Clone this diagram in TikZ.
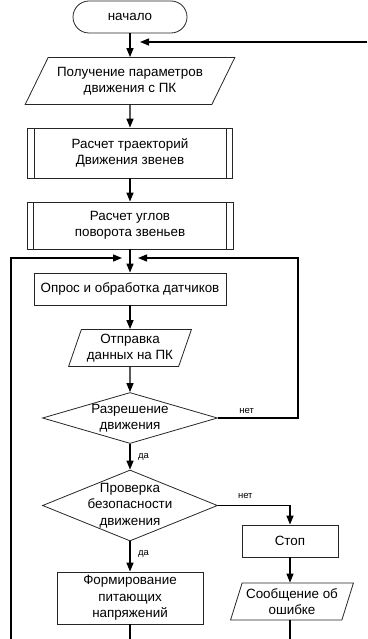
\documentclass[tikz,border=0pt]{standalone}
\usepackage{fontspec}
\setmainfont{Liberation Sans}
\usetikzlibrary{shapes.geometric,arrows.meta}

\begin{document}
\begin{tikzpicture}[
        x=1pt, y=-1pt,
        font=\fontsize{13.4}{16.5}\selectfont,
        box/.style={draw=black!85, line width=0.8pt, align=center, inner sep=2pt},
        term/.style={box, rounded corners=16pt, minimum width=114pt, minimum height=32pt},
        proc/.style={box, rectangle},
        io/.style 2 args={box, trapezium, trapezium stretches=true,
            trapezium left angle=#1, trapezium right angle=#2},
        decision/.style={box, diamond, inner sep=0pt},
        conn/.style={line width=1.4pt, -{Triangle[length=9pt,width=7pt]}},
        line/.style={line width=1.4pt},
        lbl/.style={font=\fontsize{9.5}{11}\selectfont}
    ]
    \useasboundingbox (0,0) rectangle (367,639);

    % Main column
    \node[term] (start) at (130,17) {начало};
    \node[io={57}{123}, minimum width=210pt, minimum height=47pt] (getpar) at (130,81) {Получение параметров\\движения с ПК};
    \node[proc, minimum width=205pt, minimum height=50pt] (traj) at (130,153) {Расчет траекторий\\Движения звенев};
    \node[proc, minimum width=206pt, minimum height=47pt] (angles) at (130,225.5) {Расчет углов\\поворота звеньев};
    \node[proc, minimum width=192pt, minimum height=32pt] (sensors) at (130,289) {Опрос и обработка датчиков};
    \node[io={70}{110}, minimum width=123pt, minimum height=37pt] (send) at (130,348) {Отправка\\данных на ПК};

    % Decisions
    \node[decision, minimum width=175pt, minimum height=51pt] (allow) at (130,418) {};
    \node[align=center] (allowtxt) at (allow) {Разрешение\\движения};
    \node[decision, minimum width=175pt, minimum height=71pt] (safe) at (130,505.5) {};
    \node[align=center] (safetxt) at (safe) {Проверка\\безопасности\\движения};

    % Outputs
    \node[proc, minimum width=146pt, minimum height=52pt] (power) at (130,598) {Формирование\\питающих\\напряжений};
    \node[proc, minimum width=96pt, minimum height=32pt] (stop) at (290,541) {Стоп};
    \node[io={70}{110}, minimum width=123pt, minimum height=37pt] (errmsg) at (292,601.5) {Сообщение об\\ошибке};

    % Subprocess side bars
    \foreach \n in {traj,angles} {
        \draw[line width=0.8pt, black!85] ([xshift=7pt]\n.north west) -- ([xshift=7pt]\n.south west);
        \draw[line width=0.8pt, black!85] ([xshift=-7pt]\n.north east) -- ([xshift=-7pt]\n.south east);
    }

    % Edges
    \draw[conn] (start) -- (getpar);
    \draw[conn] (getpar) -- (traj);
    \draw[conn] (traj) -- (angles);
    \draw[conn] (angles) -- (sensors);
    \draw[conn] (sensors) -- (send);
    \draw[conn] (send) -- (allow);
    \draw[conn] (allow) -- (safe) node[lbl, midway, right=4pt] {да};
    \draw[conn] (safe) -- (power) node[lbl, pos=0.4, right=4pt] {да};
    \draw[conn] (safe.east) -| (stop.north) node[lbl, pos=0.19, above=3pt] {нет};
    \draw[conn] (stop.south) -- (stop.south |- errmsg.north);

    % Loops
    \coordinate (fromtop) at (367,42);
    \coordinate (intop) at (140,42);
    \draw[conn] (fromtop) -- (intop);
    \coordinate (loopl) at (11,639);
    \coordinate (inl) at (122,258);
    \draw[conn] (loopl) |- (inl);
    \coordinate (inr) at (138,258);
    \draw[conn] (allow.east) -| ([xshift=160pt]inr) node[lbl, pos=0.18, above] {нет} -- (inr);

    % Open ends
    \coordinate (outp) at (130,639);
    \coordinate (oute) at (290,639);
    \draw[line] (power) -- (outp);
    \draw[line] (oute |- errmsg.south) -- (oute);

\end{tikzpicture}
\end{document}
